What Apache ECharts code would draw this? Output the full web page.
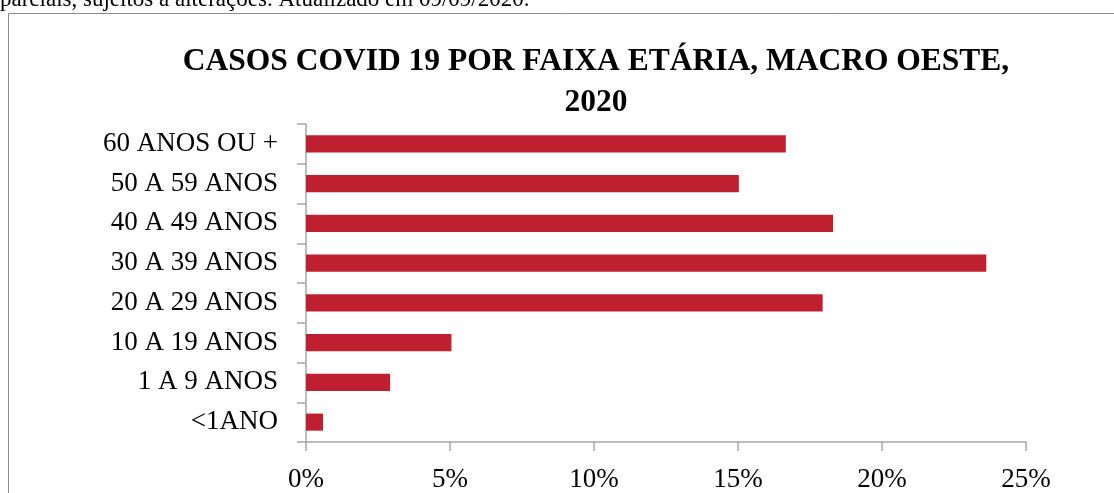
<!DOCTYPE html>
<html lang="pt">
<head>
    <meta charset="UTF-8">
    <title>Casos COVID 19 por faixa etária</title>
    <style>
        html, body { margin: 0; padding: 0; background: #fff; }
        .div { width: 1114px; height: 493px; }
    </style>
</head>
<body>
    <div class="div"></div>
    <script src="https://cdn.jsdelivr.net/npm/echarts@6/dist/echarts.min.js"></script>
    <script>
        const categories = ['<1ANO', '1 A 9 ANOS', '10 A 19 ANOS', '20 A 29 ANOS', '30 A 39 ANOS', '40 A 49 ANOS', '50 A 59 ANOS', '60 ANOS OU +']
        const percentages = [0.59, 2.92, 5.05, 17.94, 23.62, 18.30, 15.03, 16.66]
        const xTicks = [0, 5, 10, 15, 20, 25]

        const serif = '"Liberation Serif", "DejaVu Serif", serif'
        const echart = echarts.init(document.querySelector('.div'))

        echart.setOption({
            animation: false,
            title: {
                text: 'CASOS COVID 19 POR FAIXA ETÁRIA, MACRO OESTE,\n2020',
                left: 591,
                top: 36,
                textAlign: 'center',
                textStyle: {
                    fontFamily: serif,
                    fontWeight: 'bold',
                    fontSize: 31.5,
                    lineHeight: 41,
                    color: '#000'
                }
            },
            graphic: [
                {
                    type: 'text',
                    left: 0,
                    top: -12,
                    style: {
                        text: 'parciais, sujeitos a alterações. Atualizado em 09/09/2020.',
                        font: '23px ' + serif,
                        fill: '#000'
                    }
                },
                {
                    type: 'polyline',
                    shape: { points: [[8.5, 493], [8.5, 13.5], [1114, 13.5]] },
                    style: { stroke: '#8c8c8c', lineWidth: 1, fill: null }
                }
            ],
            grid: {
                left: 306,
                right: 88,
                top: 124,
                bottom: 50
            },
            xAxis: {
                type: 'value',
                min: xTicks[0],
                max: xTicks[xTicks.length - 1],
                interval: 5,
                splitLine: { show: false },
                axisLine: { show: true, lineStyle: { color: '#a6a6a6', width: 1.5 } },
                axisTick: { show: true, length: 9, lineStyle: { color: '#a6a6a6', width: 1.5 } },
                axisLabel: {
                    formatter: v => v + '%',
                    margin: 24,
                    fontFamily: serif,
                    fontSize: 27,
                    color: '#000'
                }
            },
            yAxis: {
                type: 'category',
                data: categories,
                axisLine: { show: true, lineStyle: { color: '#a6a6a6', width: 1.5 } },
                axisTick: { show: true, length: 9, alignWithLabel: false, lineStyle: { color: '#a6a6a6', width: 1.5 } },
                axisLabel: {
                    margin: 28,
                    fontFamily: serif,
                    fontSize: 27,
                    color: '#000'
                }
            },
            series: [{
                type: 'bar',
                data: percentages,
                barCategoryGap: '57%',
                itemStyle: { color: '#be2030' }
            }]
        })
    </script>
</body>
</html>
